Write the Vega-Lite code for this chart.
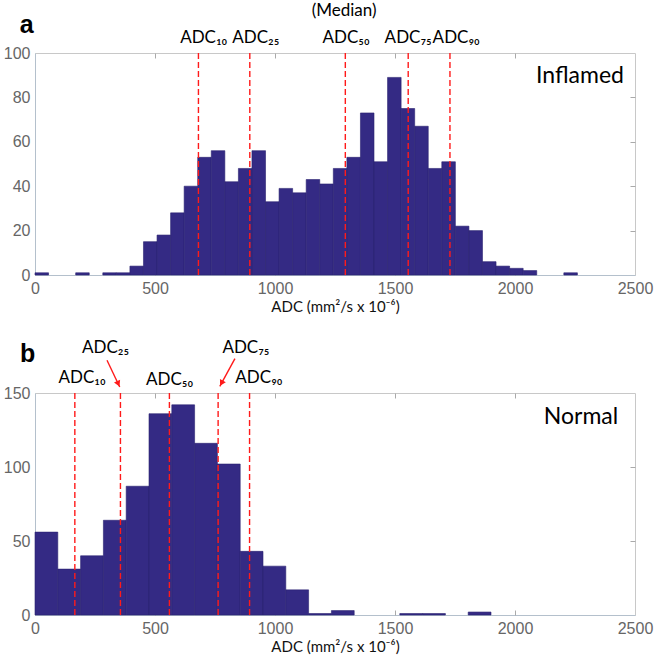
{
  "$schema": "https://vega.github.io/schema/vega-lite/v6.json",
  "background": "white",
  "padding": {"left": 2, "top": 1, "right": 5, "bottom": 5},
  "bounds": "flush",
  "spacing": 118,
  "config": {
    "view": {"stroke": "#c8c8c8", "strokeWidth": 1},
    "axis": {"grid": false, "labelFont": "Liberation Sans", "labelFontSize": 16, "labelColor": "#666666", "domainColor": "#b4c0cc", "tickColor": "#aaaaaa", "titleFont": "Lato", "titleFontSize": 15, "titleColor": "#111111", "titleFontWeight": "normal", "labelFlush": false, "labelOverlap": false, "format": "d"},
    "text": {"font": "Lato"}
  },
  "datasets": {
    "a_bins": [
      {"s": 0, "e": 56.5, "n": 1},
      {"s": 169.5, "e": 226, "n": 1},
      {"s": 282.5, "e": 339, "n": 1},
      {"s": 339, "e": 395.5, "n": 1},
      {"s": 395.5, "e": 452, "n": 4},
      {"s": 452, "e": 508.5, "n": 15},
      {"s": 508.5, "e": 565, "n": 18},
      {"s": 565, "e": 621.5, "n": 28},
      {"s": 621.5, "e": 678, "n": 40},
      {"s": 678, "e": 734.5, "n": 53},
      {"s": 734.5, "e": 791, "n": 56},
      {"s": 791, "e": 847.5, "n": 42},
      {"s": 847.5, "e": 904, "n": 48},
      {"s": 904, "e": 960.5, "n": 56},
      {"s": 960.5, "e": 1017, "n": 33},
      {"s": 1017, "e": 1073.5, "n": 39},
      {"s": 1073.5, "e": 1130, "n": 37},
      {"s": 1130, "e": 1186.5, "n": 43},
      {"s": 1186.5, "e": 1243, "n": 41},
      {"s": 1243, "e": 1299.5, "n": 48},
      {"s": 1299.5, "e": 1356, "n": 53},
      {"s": 1356, "e": 1412.5, "n": 73},
      {"s": 1412.5, "e": 1469, "n": 51},
      {"s": 1469, "e": 1525.5, "n": 89},
      {"s": 1525.5, "e": 1582, "n": 75},
      {"s": 1582, "e": 1638.5, "n": 67},
      {"s": 1638.5, "e": 1695, "n": 48},
      {"s": 1695, "e": 1751.5, "n": 51},
      {"s": 1751.5, "e": 1808, "n": 22},
      {"s": 1808, "e": 1864.5, "n": 20},
      {"s": 1864.5, "e": 1921, "n": 6},
      {"s": 1921, "e": 1977.5, "n": 4},
      {"s": 1977.5, "e": 2034, "n": 3},
      {"s": 2034, "e": 2090.5, "n": 2},
      {"s": 2203.5, "e": 2260, "n": 1}
    ],
    "b_bins": [
      {"s": 0, "e": 95, "n": 56},
      {"s": 95, "e": 190, "n": 31},
      {"s": 190, "e": 285, "n": 40},
      {"s": 285, "e": 380, "n": 64},
      {"s": 380, "e": 475, "n": 87},
      {"s": 475, "e": 570, "n": 136},
      {"s": 570, "e": 665, "n": 142},
      {"s": 665, "e": 760, "n": 116},
      {"s": 760, "e": 855, "n": 102},
      {"s": 855, "e": 950, "n": 43},
      {"s": 950, "e": 1045, "n": 33},
      {"s": 1045, "e": 1140, "n": 17},
      {"s": 1140, "e": 1235, "n": 1},
      {"s": 1235, "e": 1330, "n": 3},
      {"s": 1520, "e": 1615, "n": 1},
      {"s": 1615, "e": 1710, "n": 1},
      {"s": 1805, "e": 1900, "n": 2}
    ],
    "a_lines": [{"p": "10", "v": 681}, {"p": "25", "v": 895}, {"p": "50", "v": 1293}, {"p": "75", "v": 1555}, {"p": "90", "v": 1729}],
    "b_lines": [{"p": "10", "v": 166}, {"p": "25", "v": 356}, {"p": "50", "v": 560}, {"p": "75", "v": 763}, {"p": "90", "v": 894}],
    "a_text": [
      {"lab": "ADC₁₀", "x": 703, "y": 104.5},
      {"lab": "ADC₂₅", "x": 920, "y": 104.5},
      {"lab": "ADC₅₀", "x": 1296, "y": 104.5},
      {"lab": "ADC₇₅", "x": 1555, "y": 104.5},
      {"lab": "ADC₉₀", "x": 1755, "y": 104.5},
      {"lab": "(Median)", "x": 1288, "y": 116.6}
    ],
    "b_text": [
      {"lab": "ADC₁₀", "x": 196, "y": 156.6},
      {"lab": "ADC₂₅", "x": 294, "y": 176.8},
      {"lab": "ADC₅₀", "x": 561, "y": 155.2},
      {"lab": "ADC₇₅", "x": 879, "y": 176.8},
      {"lab": "ADC₉₀", "x": 933, "y": 156.6}
    ]
  },
  "vconcat": [
    {
      "width": 600,
      "height": 222,
      "resolve": {"axis": {"x": "independent", "y": "independent"}},
      "layer": [
        {
          "data": {"name": "a_bins"},
          "mark": {"type": "rect", "color": "#342a84", "stroke": "#2a2270", "strokeWidth": 0.6},
          "encoding": {
            "x": {"field": "s", "type": "quantitative", "scale": {"domain": [0, 2500], "nice": false, "zero": false},
                  "axis": {"orient": "bottom", "values": [0, 500, 1000, 1500, 2000, 2500], "ticks": false, "labelPadding": 5, "title": "ADC (mm²/s x 10⁻⁶)", "titlePadding": 3}},
            "x2": {"field": "e"},
            "y": {"field": "n", "type": "quantitative", "scale": {"domain": [0, 100], "nice": false},
                  "axis": {"orient": "left", "values": [0, 20, 40, 60, 80, 100], "ticks": false, "labelPadding": 5, "title": null}},
            "y2": {"datum": 0}
          }
        },
        {
          "data": {"name": "a_lines"},
          "mark": {"type": "rule", "color": "#ff1a1a", "strokeWidth": 1.4, "strokeDash": [6, 3]},
          "encoding": {
            "x": {"field": "v", "type": "quantitative",
                  "axis": {"orient": "bottom", "values": [500, 1000, 1500, 2000], "offset": -5, "tickSize": 5, "labels": false, "domain": false, "title": null}},
            "y": {"datum": 0, "type": "quantitative", "axis": null},
            "y2": {"datum": 100}
          }
        },
        {
          "data": {"name": "a_text"},
          "mark": {"type": "text", "fontSize": 17, "align": "center", "baseline": "alphabetic", "color": "#000000"},
          "encoding": {
            "x": {"field": "x", "type": "quantitative",
                  "axis": {"orient": "top", "values": [500, 1000, 1500, 2000], "offset": -5, "tickSize": 5, "labels": false, "domain": false, "title": null}},
            "y": {"field": "y", "type": "quantitative",
                  "axis": {"orient": "right", "values": [20, 40, 60, 80], "offset": -5, "tickSize": 5, "labels": false, "domain": false, "title": null}},
            "text": {"field": "lab"}
          }
        },
        {
          "data": {"values": [{"lab": "Inflamed", "x": 2454, "y": 86.6}]},
          "mark": {"type": "text", "fontSize": 23, "align": "right", "baseline": "alphabetic", "color": "#000000"},
          "encoding": {
            "x": {"field": "x", "type": "quantitative", "axis": null},
            "y": {"field": "y", "type": "quantitative", "axis": null},
            "text": {"field": "lab"}
          }
        },
        {
          "data": {"values": [{"lab": "a", "x": -35, "y": 108.9}]},
          "mark": {"type": "text", "font": "Liberation Sans", "fontWeight": "bold", "fontSize": 25, "align": "center", "baseline": "alphabetic", "color": "#000000"},
          "encoding": {
            "x": {"field": "x", "type": "quantitative", "axis": null},
            "y": {"field": "y", "type": "quantitative", "axis": null},
            "text": {"field": "lab"}
          }
        }
      ]
    },
    {
      "width": 600,
      "height": 222,
      "resolve": {"axis": {"x": "independent", "y": "independent"}},
      "layer": [
        {
          "data": {"name": "b_bins"},
          "mark": {"type": "rect", "color": "#342a84", "stroke": "#2a2270", "strokeWidth": 0.6},
          "encoding": {
            "x": {"field": "s", "type": "quantitative", "scale": {"domain": [0, 2500], "nice": false, "zero": false},
                  "axis": {"orient": "bottom", "values": [0, 500, 1000, 1500, 2000, 2500], "ticks": false, "labelPadding": 5, "title": "ADC (mm²/s x 10⁻⁶)", "titlePadding": 3}},
            "x2": {"field": "e"},
            "y": {"field": "n", "type": "quantitative", "scale": {"domain": [0, 150], "nice": false},
                  "axis": {"orient": "left", "values": [0, 50, 100, 150], "ticks": false, "labelPadding": 5, "title": null}},
            "y2": {"datum": 0}
          }
        },
        {
          "data": {"name": "b_lines"},
          "mark": {"type": "rule", "color": "#ff1a1a", "strokeWidth": 1.4, "strokeDash": [6, 3]},
          "encoding": {
            "x": {"field": "v", "type": "quantitative",
                  "axis": {"orient": "bottom", "values": [500, 1000, 1500, 2000], "offset": -5, "tickSize": 5, "labels": false, "domain": false, "title": null}},
            "y": {"datum": 0, "type": "quantitative", "axis": null},
            "y2": {"datum": 150}
          }
        },
        {
          "data": {"name": "b_text"},
          "mark": {"type": "text", "fontSize": 17, "align": "center", "baseline": "alphabetic", "color": "#000000"},
          "encoding": {
            "x": {"field": "x", "type": "quantitative",
                  "axis": {"orient": "top", "values": [500, 1000, 1500, 2000], "offset": -5, "tickSize": 5, "labels": false, "domain": false, "title": null}},
            "y": {"field": "y", "type": "quantitative",
                  "axis": {"orient": "right", "values": [50, 100], "offset": -5, "tickSize": 5, "labels": false, "domain": false, "title": null}},
            "text": {"field": "lab"}
          }
        },
        {
          "data": {"values": [{"x": 300, "y": 172.1, "x2": 353, "y2": 154.1}, {"x": 833, "y": 173.2, "x2": 770, "y2": 154.5}]},
          "mark": {"type": "rule", "color": "#ff1a1a", "strokeWidth": 1.4},
          "encoding": {
            "x": {"field": "x", "type": "quantitative", "axis": null},
            "y": {"field": "y", "type": "quantitative", "axis": null},
            "x2": {"field": "x2"},
            "y2": {"field": "y2"}
          }
        },
        {
          "data": {"values": [{"x": 347, "y": 156.2}]},
          "mark": {"type": "point", "shape": "triangle-down", "filled": true, "color": "#ff1a1a", "size": 45, "angle": -25, "opacity": 1},
          "encoding": {
            "x": {"field": "x", "type": "quantitative", "axis": null},
            "y": {"field": "y", "type": "quantitative", "axis": null}
          }
        },
        {
          "data": {"values": [{"x": 777, "y": 156.6}]},
          "mark": {"type": "point", "shape": "triangle-down", "filled": true, "color": "#ff1a1a", "size": 45, "angle": 29, "opacity": 1},
          "encoding": {
            "x": {"field": "x", "type": "quantitative", "axis": null},
            "y": {"field": "y", "type": "quantitative", "axis": null}
          }
        },
        {
          "data": {"values": [{"lab": "Normal", "x": 2430, "y": 129.3}]},
          "mark": {"type": "text", "fontSize": 23, "align": "right", "baseline": "alphabetic", "color": "#000000"},
          "encoding": {
            "x": {"field": "x", "type": "quantitative", "axis": null},
            "y": {"field": "y", "type": "quantitative", "axis": null},
            "text": {"field": "lab"}
          }
        },
        {
          "data": {"values": [{"lab": "b", "x": -31, "y": 171}]},
          "mark": {"type": "text", "font": "Liberation Sans", "fontWeight": "bold", "fontSize": 25, "align": "center", "baseline": "alphabetic", "color": "#000000"},
          "encoding": {
            "x": {"field": "x", "type": "quantitative", "axis": null},
            "y": {"field": "y", "type": "quantitative", "axis": null},
            "text": {"field": "lab"}
          }
        }
      ]
    }
  ]
}
